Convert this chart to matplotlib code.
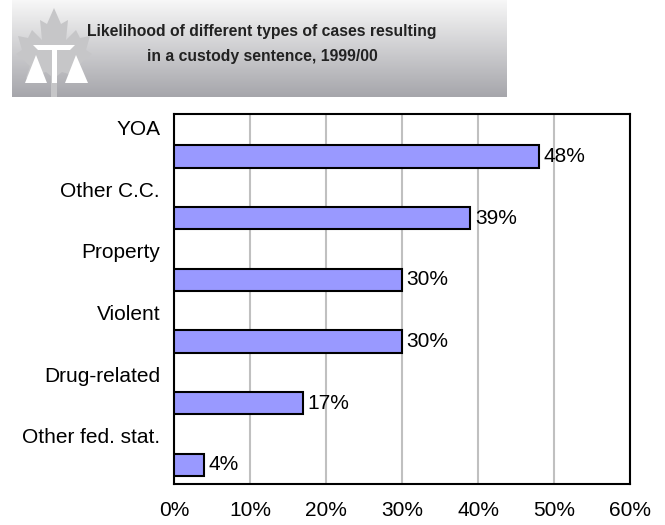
import numpy as np
import matplotlib
matplotlib.use("Agg")
import matplotlib.pyplot as plt
from matplotlib.patches import Polygon

# custody sentence rates, 1999/00
categories = ["YOA", "Other C.C.", "Property", "Violent", "Drug-related", "Other fed. stat."]
values = [48, 39, 30, 30, 17, 4]
xticks = [0, 10, 20, 30, 40, 50, 60]
title = "Likelihood of different types of cases resulting\nin a custody sentence, 1999/00"

W, H = 665, 525
fig = plt.figure(figsize=(W / 100, H / 100), dpi=100)
fig.patch.set_facecolor("white")

# ---- banner with logo ----
bx0, bx1, by0, by1 = 12, 507, 0, 97
ban = fig.add_axes([bx0 / W, 1 - by1 / H, (bx1 - bx0) / W, (by1 - by0) / H])
grad = np.linspace(0, 1, 256)[:, None]
top = np.array([0.97, 0.97, 0.97])
bot = np.array([0.65, 0.65, 0.67])
img = top + (bot - top) * grad[..., None]
img = np.repeat(img, 2, axis=1)
ban.imshow(img, extent=[bx0, bx1, by1, by0], aspect="auto")
ban.set_xlim(bx0, bx1)
ban.set_ylim(by1, by0)
ban.axis("off")

leaf = [(54, 8), (61, 24), (68, 20), (66, 40), (76, 30), (80, 38), (90, 36),
        (86, 50), (92, 54), (78, 66), (82, 78), (62, 72), (57, 76), (57, 97),
        (51, 97), (51, 76), (46, 72), (26, 78), (30, 66), (16, 54), (22, 50),
        (18, 36), (28, 38), (32, 30), (42, 40), (40, 20), (47, 24)]
ban.add_patch(Polygon(leaf, closed=True, fc="#c6c6c8", ec="none"))
ban.add_patch(Polygon([(33, 45), (75, 45), (70, 50), (38, 50)], fc="white", ec="none"))
ban.add_patch(Polygon([(52, 49), (57, 49), (57, 83), (52, 83)], fc="white", ec="none"))
ban.add_patch(Polygon([(36, 55), (25, 83), (47, 83)], fc="white", ec="none"))
ban.add_patch(Polygon([(76, 55), (65, 83), (88, 83)], fc="white", ec="none"))

fig.text(262 / W, 1 - 44 / H, title, ha="center", va="center",
         fontsize=11.3, fontweight="bold", color="#222222", linespacing=1.85,
         family="Liberation Sans")

# ---- bar chart ----
ax = fig.add_axes([174 / W, 1 - 484 / H, (630 - 174) / W, (484 - 114) / H])
y = np.arange(len(categories))
ax.barh(y + 0.19, values, height=0.36, color="#9999ff", edgecolor="black",
        linewidth=1.5, zorder=3)
for yi, v in zip(y, values):
    ax.text(v + 0.6, yi + 0.19, f"{v}%", va="center", ha="left",
            fontsize=15, family="Liberation Sans", zorder=4)

ax.set_xlim(0, 60)
ax.set_ylim(5.5, -0.5)
ax.set_xticks(xticks)
ax.set_xticklabels([f"{t}%" for t in xticks], family="Liberation Sans", fontsize=15)
ax.set_yticks(y - 0.28)
ax.set_yticklabels(categories, family="Liberation Sans", fontsize=15)
ax.tick_params(axis="both", length=0)
ax.tick_params(axis="x", pad=12)
ax.tick_params(axis="y", pad=10)
ax.xaxis.grid(True, color="#c0c0c0", linewidth=1.5, zorder=0)
ax.set_axisbelow(True)
for s in ax.spines.values():
    s.set_linewidth(1.5)
    s.set_color("black")

fig.savefig("out.png", dpi=100, facecolor="white")
